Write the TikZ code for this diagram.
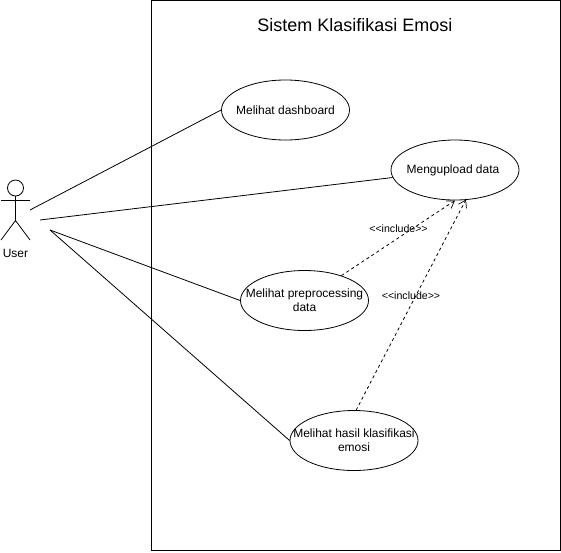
\documentclass[tikz,border=0pt]{standalone}
\usepackage{fontspec}
\setmainfont{Liberation Sans}
\usetikzlibrary{arrows.meta,shapes.geometric}
\tikzset{
 uc/.style={draw,ellipse,minimum width=128pt,minimum height=60pt,inner xsep=-30pt,inner ysep=-12pt,align=center,font=\fontsize{12}{14}\selectfont,fill=white,line width=0.8pt},
 ln/.style={draw,line width=0.8pt},
 inc/.style={draw,dash pattern=on 3pt off 3pt,line width=0.8pt,-{Straight Barb[length=7pt,width=9pt,line width=0.7pt]}},
 lab/.style={font=\fontsize{10.6}{12}\selectfont,inner sep=0pt},
}
\begin{document}
\begin{tikzpicture}[x=1pt,y=-1pt]
\useasboundingbox (0,0) rectangle (561,552);
\path[fill=white] (0,0) rectangle (561,552);
\draw[line width=0.8pt] (151,0.5) rectangle (560.5,550.5);
\node[font=\fontsize{18}{21}\selectfont] (title) at (355,25) {Sistem Klasifikasi Emosi};
\node[uc] (dash) at (285.5,110) {Melihat dashboard};
\node[uc] (upl) at (455,170) {\hspace{-4pt}Mengupload data};
\node[uc] (pre) at (304.5,300.5) {Melihat preprocessing\\data};
\node[uc] (has) at (354,440.5) {Melihat hasil klasifikasi\\emosi};
\draw[ln] (15.5,188) circle (8);
\draw[ln] (15.5,196) -- (15.5,220.5);
\draw[ln] (1,200.5) -- (30,200.5);
\draw[ln] (1,240) -- (15.5,220.5) -- (30,240);
\node[font=\fontsize{12}{14}\selectfont] (user) at (15.5,253) {User};
\coordinate (a1) at (30,210);
\coordinate (a2) at (40,220);
\coordinate (a3) at (50,230);
\coordinate (t1) at (455,200.5);
\coordinate (t2) at (466,199.5);
\draw[ln] (a1) -- (dash.west);
\draw[ln] (a2) -- (upl);
\draw[ln] (a3) -- (pre.west);
\draw[ln] (a3) -- (has.west);
\path[inc] (pre.34) -- (t1);
\path[inc] (has.86) -- (t2);
\node[lab] (l1) at (398.5,228.5) {<{}<include>{}>};
\node[lab] (l2) at (411,295.5) {<{}<include>{}>};
\end{tikzpicture}
\end{document}
